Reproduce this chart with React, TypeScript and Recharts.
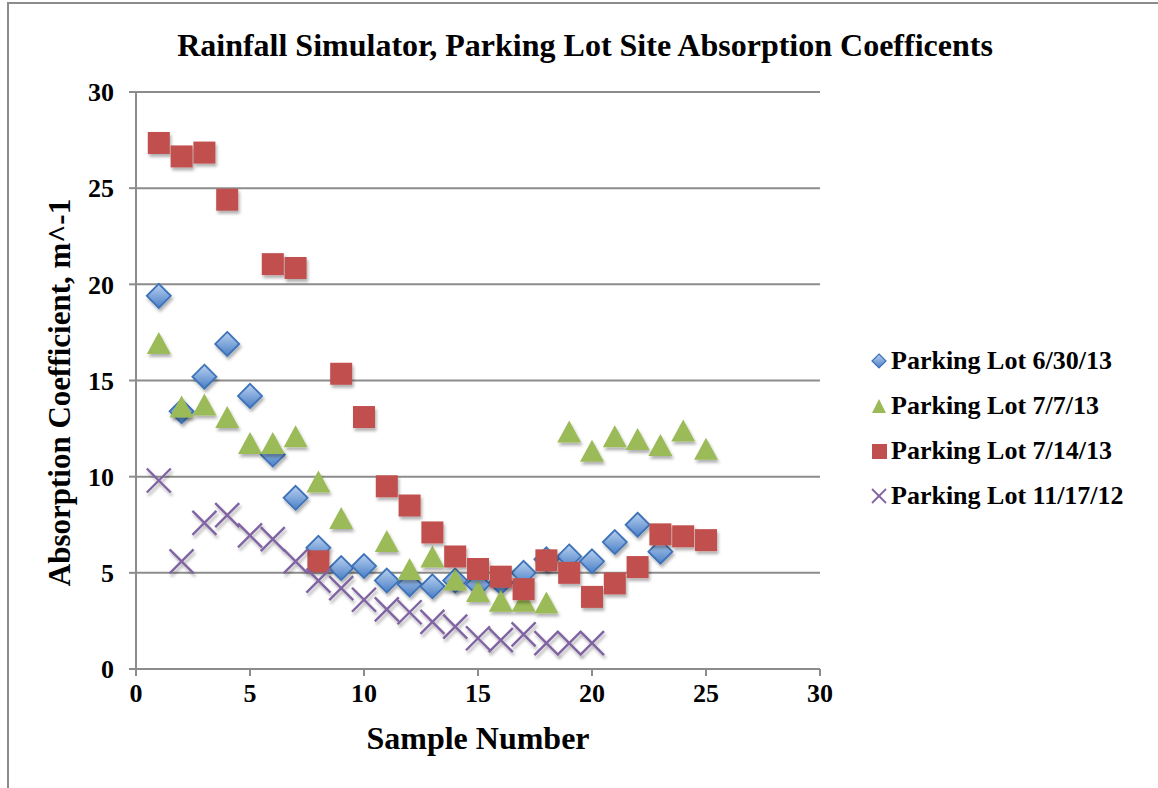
import React from "react";
import {
  ScatterChart,
  Scatter,
  XAxis,
  YAxis,
  CartesianGrid,
  Label,
} from "recharts";

const sampleNumbers = [
  1, 2, 3, 4, 5, 6, 7, 8, 9, 10, 11, 12, 13, 14, 15, 16, 17, 18, 19, 20, 21,
  22, 23, 24, 25,
];

// absorption coefficients (m^-1) per sample, null where no sample was taken
const lot063013 = [
  19.4, 13.4, 15.2, 16.9, 14.2, 11.15, 8.9, 6.3, 5.25, 5.35, 4.6, 4.4, 4.3,
  4.6, 4.4, 4.5, 5.0, 5.7, 5.85, 5.6, 6.6, 7.5, 6.1,
];
const lot070713 = [
  16.9, 13.6, 13.7, 13.05, 11.7, 11.7, 12.05, 9.7, 7.8, null, 6.6, 5.15, 5.8,
  4.6, 4.0, 3.5, 3.5, 3.4, 12.3, 11.3, 12.05, 11.9, 11.6, 12.35, 11.4,
];
const lot071413 = [
  27.35, 26.65, 26.85, 24.4, null, 21.05, 20.85, 5.6, 15.35, 13.1, 9.5, 8.5,
  7.1, 5.85, 5.2, 4.8, 4.15, 5.65, 5.0, 3.75, 4.45, 5.3, 7.0, 6.9, 6.7,
];
const lot111712 = [
  9.8, 5.6, 7.6, 8.0, 6.95, 6.75, 5.6, 4.6, 4.2, 3.6, 3.1, 2.95, 2.45, 2.2,
  1.6, 1.5, 1.8, 1.35, 1.35, 1.35,
];

const axisTicks = [0, 5, 10, 15, 20, 25, 30];

const toPoints = (values: (number | null)[]) =>
  values
    .map((v, i) => ({ x: sampleNumbers[i], y: v }))
    .filter((p) => p.y !== null);

const serif = "'Liberation Serif', 'Times New Roman', serif";
const grey = "#8c8c8c";

type ShapeProps = { cx?: number; cy?: number };

const Diamond = ({ cx = 0, cy = 0 }: ShapeProps) => {
  const r = 12;
  return (
    <path
      d={`M${cx},${cy - r} L${cx + r},${cy} L${cx},${cy + r} L${cx - r},${cy} Z`}
      fill="url(#diamondFill)"
      stroke="#3d72b8"
      strokeWidth={1.8}
      filter="url(#markerShadow)"
    />
  );
};

const Triangle = ({ cx = 0, cy = 0 }: ShapeProps) => (
  <path
    d={`M${cx},${cy - 12} L${cx + 12},${cy + 10} L${cx - 12},${cy + 10} Z`}
    fill="#9bbb59"
    filter="url(#markerShadow)"
  />
);

const Square = ({ cx = 0, cy = 0 }: ShapeProps) => (
  <rect
    x={cx - 11}
    y={cy - 11}
    width={22}
    height={22}
    fill="#c0504d"
    filter="url(#markerShadow)"
  />
);

const Cross = ({ cx = 0, cy = 0 }: ShapeProps) => {
  const r = 12;
  return (
    <g stroke="#8064a2" strokeWidth={2.4} filter="url(#markerShadow)">
      <line x1={cx - r} y1={cy - r} x2={cx + r} y2={cy + r} />
      <line x1={cx - r} y1={cy + r} x2={cx + r} y2={cy - r} />
    </g>
  );
};

const legendItems = [
  { name: "Parking Lot 6/30/13", kind: "diamond" },
  { name: "Parking Lot 7/7/13", kind: "triangle" },
  { name: "Parking Lot 7/14/13", kind: "square" },
  { name: "Parking Lot 11/17/12", kind: "cross" },
];

const LegendIcon = ({ kind }: { kind: string }) => (
  <svg width={18} height={18} style={{ marginRight: 3 }}>
    <defs>
      <linearGradient id="legendDiamond" x1="0" y1="0" x2="0" y2="1">
        <stop offset="0%" stopColor="#b9d1f0" />
        <stop offset="100%" stopColor="#4a7fc6" />
      </linearGradient>
    </defs>
    {kind === "diamond" && (
      <path d="M9,2 L16,9 L9,16 L2,9 Z" fill="url(#legendDiamond)" stroke="#3d72b8" strokeWidth={1.2} />
    )}
    {kind === "triangle" && <path d="M9,2 L16,16 L2,16 Z" fill="#9bbb59" />}
    {kind === "square" && <rect x={2} y={2} width={15} height={15} fill="#c0504d" />}
    {kind === "cross" && (
      <g stroke="#8064a2" strokeWidth={1.8}>
        <line x1={2} y1={2} x2={16} y2={16} />
        <line x1={2} y1={16} x2={16} y2={2} />
      </g>
    )}
  </svg>
);

const SeriesLegend = () => (
  <div
    style={{
      position: "absolute",
      left: 870,
      top: 338,
      fontFamily: serif,
      fontWeight: "bold",
      fontSize: 26,
      color: "#000",
    }}
  >
    {legendItems.map((item) => (
      <div
        key={item.name}
        style={{ display: "flex", alignItems: "center", height: 45, whiteSpace: "nowrap" }}
      >
        <LegendIcon kind={item.kind} />
        <span>{item.name}</span>
      </div>
    ))}
  </div>
);

export default function App() {
  const tickStyle = { fontFamily: serif, fontWeight: "bold", fontSize: 26, fill: "#000" };
  const titleStyle = { fontFamily: serif, fontWeight: "bold", fontSize: 32, fill: "#000" };

  return (
    <div
      style={{
        position: "absolute",
        left: 0,
        top: 0,
        width: 1158,
        height: 788,
        overflow: "hidden",
        background: "#fff",
      }}
    >
      <div
        style={{
          position: "absolute",
          left: 7,
          top: 2,
          width: 1160,
          height: 800,
          borderLeft: `2px solid ${grey}`,
          borderTop: `2px solid ${grey}`,
        }}
      />
      <div
        style={{
          position: "absolute",
          left: 0,
          top: 27,
          width: 1170,
          textAlign: "center",
          fontFamily: serif,
          fontWeight: "bold",
          fontSize: 32,
          color: "#000",
        }}
      >
        Rainfall Simulator, Parking Lot Site Absorption Coefficents
      </div>
      <ScatterChart
        width={1158}
        height={788}
        margin={{ top: 92, right: 338, bottom: 0, left: 76 }}
        style={{ position: "absolute", left: 0, top: 0 }}
      >
        <defs>
          <linearGradient id="diamondFill" x1="0" y1="0" x2="0" y2="1">
            <stop offset="0%" stopColor="#b9d1f0" />
            <stop offset="100%" stopColor="#4a7fc6" />
          </linearGradient>
          <filter id="markerShadow" x="-50%" y="-50%" width="200%" height="200%">
            <feDropShadow dx={1.5} dy={3} stdDeviation={1.8} floodColor="#000" floodOpacity={0.3} />
          </filter>
        </defs>
        <CartesianGrid
          vertical={false}
          stroke={grey}
          strokeWidth={2}
          horizontalValues={axisTicks}
        />
        <XAxis
          type="number"
          dataKey="x"
          domain={[0, 30]}
          ticks={axisTicks}
          interval={0}
          allowDataOverflow
          height={119}
          stroke={grey}
          strokeWidth={2}
          tickSize={7}
          tickMargin={8}
          tick={tickStyle}
        >
          <Label
            value="Sample Number"
            position="insideTop"
            offset={57}
            style={titleStyle}
          />
        </XAxis>
        <YAxis
          type="number"
          dataKey="y"
          domain={[0, 30]}
          ticks={axisTicks}
          interval={0}
          allowDataOverflow
          width={60}
          stroke={grey}
          strokeWidth={2}
          tickSize={7}
          tickMargin={15}
          tick={tickStyle}
        >
          <Label
            value="Absorption Coefficient, m^-1"
            angle={-90}
            position="left"
            offset={17}
            dy={12}
            style={{ ...titleStyle, fontSize: 31, textAnchor: "middle" }}
          />
        </YAxis>
        <Scatter
          name="Parking Lot 6/30/13"
          data={toPoints(lot063013)}
          shape={<Diamond />}
          isAnimationActive={false}
        />
        <Scatter
          name="Parking Lot 7/7/13"
          data={toPoints(lot070713)}
          shape={<Triangle />}
          isAnimationActive={false}
        />
        <Scatter
          name="Parking Lot 7/14/13"
          data={toPoints(lot071413)}
          shape={<Square />}
          isAnimationActive={false}
        />
        <Scatter
          name="Parking Lot 11/17/12"
          data={toPoints(lot111712)}
          shape={<Cross />}
          isAnimationActive={false}
        />
      </ScatterChart>
      <SeriesLegend />
    </div>
  );
}
